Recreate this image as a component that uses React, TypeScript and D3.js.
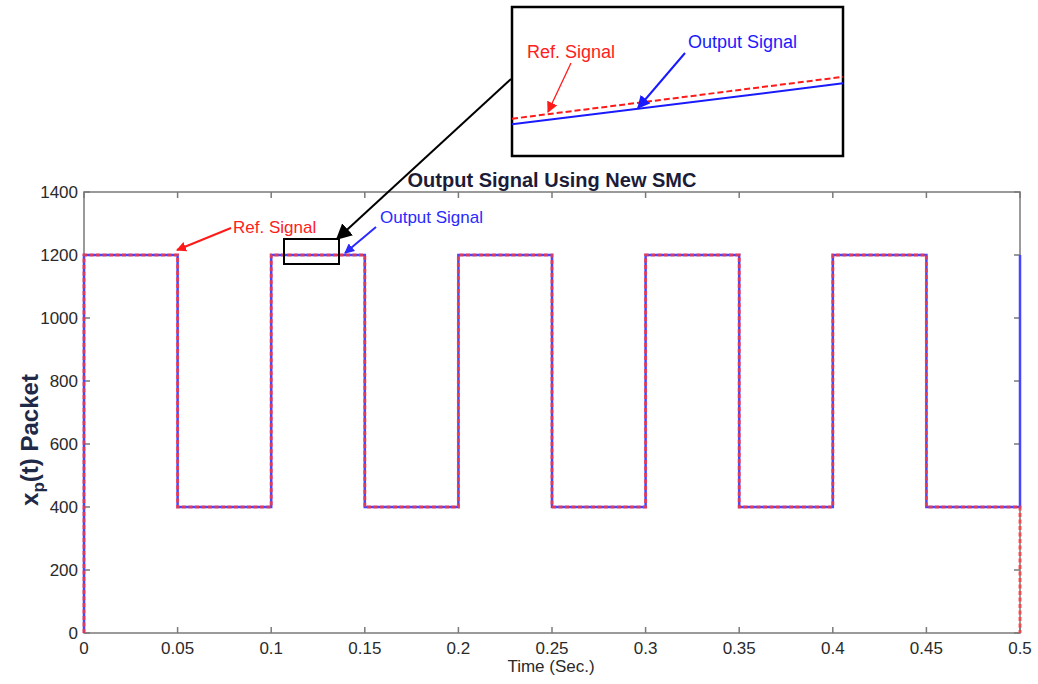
import React from "react";
import * as d3 from "d3";

// ---- data ----
const timeTicks = [0, 0.05, 0.1, 0.15, 0.2, 0.25, 0.3, 0.35, 0.4, 0.45, 0.5];
const valueTicks = [0, 200, 400, 600, 800, 1000, 1200, 1400];

const sigTime = [0, 0, 0.05, 0.05, 0.1, 0.1, 0.15, 0.15, 0.2, 0.2, 0.25, 0.25, 0.3, 0.3, 0.35, 0.35, 0.4, 0.4, 0.45, 0.45, 0.5, 0.5];
const refSignal = [0, 1200, 1200, 400, 400, 1200, 1200, 400, 400, 1200, 1200, 400, 400, 1200, 1200, 400, 400, 1200, 1200, 400, 400, 0];
const outSignal = [0, 1200, 1200, 400, 400, 1200, 1200, 400, 400, 1200, 1200, 400, 400, 1200, 1200, 400, 400, 1200, 1200, 400, 400, 1200];

// zoomed inset (detail of the boxed region)
const insetTime = [0.108, 0.138];
const insetRef = [1198.0, 1200.25];
const insetOut = [1197.7, 1199.9];

const W = 1038;
const H = 684;
const M = { left: 84, right: 1020, top: 192, bottom: 633 };

export default function App() {
  const x = d3.scaleLinear().domain([0, 0.5]).range([M.left, M.right]);
  const y = d3.scaleLinear().domain([0, 1400]).range([M.bottom, M.top]);

  const line = d3
    .line<number>()
    .x((_, i) => x(sigTime[i]))
    .y((d) => y(d));

  const ix = d3.scaleLinear().domain(insetTime).range([512, 843]);
  const iy = d3.scaleLinear().domain([1196, 1204]).range([156, 7]);
  const iline = (vals: number[]) =>
    d3
      .line<number>()
      .x((_, i) => ix(insetTime[i]))
      .y((d) => iy(d))(vals) as string;

  const axisColor = "#7a7a7a";
  const tickLen = 6;
  const font = "'Liberation Sans', Arial, Helvetica, sans-serif";

  return (
    <div style={{ position: "fixed", left: 0, top: 0 }}>
      <svg width={W} height={H} style={{ display: "block", background: "#fff" }} fontFamily={font}>
        <defs>
          <marker id="arrRed" viewBox="0 0 10 10" refX="9" refY="5" markerWidth="10" markerHeight="10" markerUnits="userSpaceOnUse" orient="auto">
            <path d="M0,0 L10,5 L0,10 z" fill="#ff1a1a" />
          </marker>
          <marker id="arrBlue" viewBox="0 0 10 10" refX="9" refY="5" markerWidth="10" markerHeight="10" markerUnits="userSpaceOnUse" orient="auto">
            <path d="M0,0 L10,5 L0,10 z" fill="#2a2aff" />
          </marker>
          <marker id="arrBlack" viewBox="0 0 10 10" refX="9" refY="5" markerWidth="16" markerHeight="16" markerUnits="userSpaceOnUse" orient="auto">
            <path d="M0,0 L10,5 L0,10 z" fill="#000" />
          </marker>
          <marker id="arrRedI" viewBox="0 0 10 10" refX="9" refY="5" markerWidth="11" markerHeight="11" markerUnits="userSpaceOnUse" orient="auto">
            <path d="M0,0 L10,5 L0,10 z" fill="#ff1a1a" />
          </marker>
          <marker id="arrBlueI" viewBox="0 0 10 10" refX="9" refY="5" markerWidth="13" markerHeight="13" markerUnits="userSpaceOnUse" orient="auto">
            <path d="M0,0 L10,5 L0,10 z" fill="#1a1aff" />
          </marker>
        </defs>

        {/* axes box */}
        <rect x={M.left} y={M.top} width={M.right - M.left} height={M.bottom - M.top} fill="#fff" stroke={axisColor} strokeWidth={1.5} />

        {/* x ticks */}
        {timeTicks.map((t) => (
          <g key={"xt" + t}>
            <line x1={x(t)} x2={x(t)} y1={M.bottom} y2={M.bottom - tickLen} stroke={axisColor} strokeWidth={1.5} />
            <line x1={x(t)} x2={x(t)} y1={M.top} y2={M.top + tickLen} stroke={axisColor} strokeWidth={1.5} />
            <text x={x(t)} y={654} textAnchor="middle" fontSize={17} fill="#2a2a2a">
              {String(t)}
            </text>
          </g>
        ))}

        {/* y ticks */}
        {valueTicks.map((v) => (
          <g key={"yt" + v}>
            <line x1={M.left} x2={M.left + tickLen} y1={y(v)} y2={y(v)} stroke={axisColor} strokeWidth={1.5} />
            <line x1={M.right} x2={M.right - tickLen} y1={y(v)} y2={y(v)} stroke={axisColor} strokeWidth={1.5} />
            <text x={78} y={y(v)} dy="0.35em" textAnchor="end" fontSize={17} fill="#2a2a2a">
              {String(v)}
            </text>
          </g>
        ))}

        {/* signals */}
        <path d={line(outSignal) as string} fill="none" stroke="#4646ff" strokeWidth={2.5} />
        <path d={line(refSignal) as string} fill="none" stroke="#ff3a3a" strokeWidth={3} strokeDasharray="4,2.5" opacity={0.8} />

        {/* title */}
        <text x={(M.left + M.right) / 2} y={187} textAnchor="middle" fontSize={20} fontWeight="bold" fill="#1c1c38">
          Output Signal Using New SMC
        </text>

        {/* x label */}
        <text x={551} y={672} textAnchor="middle" fontSize={17} fill="#2a2a2a">
          Time (Sec.)
        </text>

        {/* y label */}
        <text transform="translate(38,440) rotate(-90)" textAnchor="middle" fontSize={24} fontWeight="bold" fill="#1f2a48">
          x<tspan fontSize={17} dy={6}>p</tspan>
          <tspan dy={-6}>(t) Packet</tspan>
        </text>

        {/* main annotations */}
        <text x={233} y={233} fontSize={17} fill="#ff2020">Ref. Signal</text>
        <line x1={231} y1={228} x2={177} y2={250} stroke="#ff1a1a" strokeWidth={2} markerEnd="url(#arrRed)" />
        <text x={380} y={223} fontSize={17} fill="#2a2aff">Output Signal</text>
        <line x1={376} y1={227} x2={345} y2={253} stroke="#2a2aff" strokeWidth={2} markerEnd="url(#arrBlue)" />

        {/* zoom rectangle and arrow */}
        <rect x={284} y={239} width={55} height={25} fill="none" stroke="#000" strokeWidth={2} />
        <line x1={511} y1={79} x2={337} y2={239} stroke="#000" strokeWidth={2} markerEnd="url(#arrBlack)" />

        {/* inset */}
        <rect x={512} y={7} width={331} height={149} fill="#fff" stroke="#000" strokeWidth={2.5} />
        <path d={iline(insetOut)} fill="none" stroke="#1a1aff" strokeWidth={2} />
        <path d={iline(insetRef)} fill="none" stroke="#ff1a1a" strokeWidth={2} strokeDasharray="6,3" />
        <text x={527} y={58} fontSize={18} fill="#ff2020">Ref. Signal</text>
        <line x1={571} y1={63} x2={548} y2={112} stroke="#ff1a1a" strokeWidth={1.3} markerEnd="url(#arrRedI)" />
        <text x={688} y={48} fontSize={18} fill="#1a1aff">Output Signal</text>
        <line x1={685} y1={53} x2={638} y2={108} stroke="#1a1aff" strokeWidth={2} markerEnd="url(#arrBlueI)" />
      </svg>
    </div>
  );
}
